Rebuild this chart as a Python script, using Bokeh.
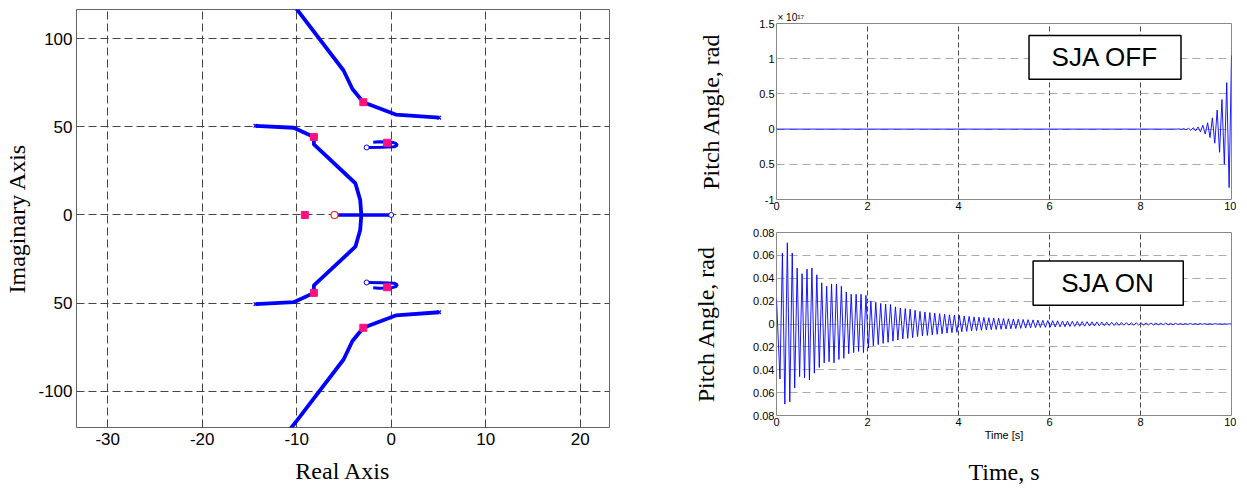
from bokeh.plotting import figure
from bokeh.models import Range1d, FixedTicker, LinearAxis, BoxAnnotation, Label
from bokeh.layouts import row, column
from bokeh.embed import file_html
from bokeh.resources import INLINE

# ---------------- Root locus data ----------------
# upper outer branch (mirrored for lower)
outer_x = [-11.2, -9.98, -5.04, -4.1, -2.95, 0.48, 5.08]
outer_y = [125.0, 116.7, 82.0, 71.5, 64.0, 57.0, 55.2]
# upper inner branch from (-14.4, 50.6) to the real axis
inner_x = [-14.37, -10.31, -8.18, -8.18, -3.79, -3.28, -3.16]
inner_y = [50.6, 49.5, 44.2, 40.0, 18.0, 8.5, 0.0]
# small loop near the imaginary axis
loop_x = [-1.9, -1.3, 0.0, 0.5, 0.65, 0.3, -1.0, -2.6]
loop_y = [41.3, 41.6, 41.4, 40.6, 39.6, 38.7, 38.4, 38.3]
# real axis segment
real_seg_x = [-6.0, 0.0]
real_seg_y = [0.0, 0.0]
# gain markers (upper half + real axis)
mark_x = [-2.95, -8.18, -0.43, -9.14]
mark_y = [64.0, 44.2, 41.0, 0.0]
zero_red_x = [-6.0]
zero_red_y = [0.0]
blue_o_x = [0.0, -2.6, -2.6]
blue_o_y = [0.0, 38.3, -38.3]
pole_x = [5.08, 5.08, -14.37, -14.37]
pole_y = [55.2, -55.2, 50.6, -50.6]

rl_xticks = [-30, -20, -10, 0, 10, 20]
rl_xlabels = {-30: "-30", -20: "-20", -10: "-10", 0: "0", 10: "10", 20: "20"}
rl_yticks = [-100, -50, 0, 50, 100]
rl_ylabels = {-100: "-100", -50: "50", 0: "0", 50: "50", 100: "100"}

# ---------------- Time responses ----------------
time_ticks = [0, 2, 4, 6, 8, 10]
# SJA OFF : values in units of 1e17, quiet until ~8.8 s then growing
off_quiet_end = 8.8
off_first_t = 8.845
off_half_period = 0.0525
off_peaks = [0.003, -0.004, 0.006, -0.008, 0.011, -0.015, 0.02, -0.025, 0.03, -0.04,
             0.055, -0.07, 0.09, -0.12, 0.16, -0.2, 0.27, -0.33, 0.42, -0.5,
             0.66, -0.83, 1.05]
off_yticks = [-1, -0.5, 0, 0.5, 1, 1.5]
off_ylabels = {-1: "-1", -0.5: "0.5", 0: "0", 0.5: "0.5", 1: "1", 1.5: "1.5"}

# SJA ON : extrema of the decaying oscillation
on_start = 0.022
on_first_min_t = 0.076
on_period = 0.108
on_max = [0.062, 0.071, 0.062, 0.049, 0.044, 0.048, 0.049, 0.043, 0.036, 0.033,
          0.035, 0.035, 0.033, 0.028, 0.026, 0.026, 0.026, 0.025, 0.020, 0.019,
          0.018, 0.0175, 0.017, 0.015, 0.014, 0.0135, 0.013, 0.012, 0.011, 0.0105,
          0.010, 0.0095, 0.009, 0.0085, 0.008, 0.0078, 0.0075, 0.007, 0.0066, 0.0062,
          0.006, 0.0057, 0.0054, 0.0052, 0.005, 0.0048, 0.0046, 0.0044, 0.0042, 0.004,
          0.0038, 0.0036, 0.0034, 0.0032, 0.003, 0.0029, 0.0028, 0.0026, 0.0025, 0.0024,
          0.0022, 0.0021, 0.002, 0.0019, 0.0018, 0.0017, 0.0016, 0.0015, 0.0014, 0.0013,
          0.0012, 0.0011, 0.001, 0.001, 0.0009, 0.0008, 0.0008, 0.0007, 0.0007, 0.0006,
          0.0006, 0.0005, 0.0005, 0.0004, 0.0004, 0.0004, 0.0003, 0.0003, 0.0003, 0.0002,
          0.0002, 0.0002]
on_min = [-0.048, -0.070, -0.068, -0.056, -0.046, -0.047, -0.049, -0.043, -0.038, -0.034,
          -0.033, -0.034, -0.031, -0.030, -0.026, -0.025, -0.024, -0.025, -0.021, -0.019,
          -0.018, -0.017, -0.016, -0.015, -0.014, -0.013, -0.0125, -0.012, -0.011, -0.0105,
          -0.010, -0.0095, -0.009, -0.0085, -0.008, -0.0076, -0.0072, -0.0068, -0.0064, -0.006,
          -0.0058, -0.0055, -0.0052, -0.005, -0.0048, -0.0046, -0.0044, -0.0042, -0.004, -0.0038,
          -0.0036, -0.0034, -0.0032, -0.003, -0.0029, -0.0028, -0.0026, -0.0025, -0.0024, -0.0022,
          -0.0021, -0.002, -0.0019, -0.0018, -0.0017, -0.0016, -0.0015, -0.0014, -0.0013, -0.0012,
          -0.0011, -0.001, -0.001, -0.0009, -0.0009, -0.0008, -0.0008, -0.0007, -0.0007, -0.0006,
          -0.0006, -0.0005, -0.0005, -0.0004, -0.0004, -0.0004, -0.0003, -0.0003, -0.0003, -0.0002,
          -0.0002, -0.0002]
on_yticks = [-0.08, -0.06, -0.04, -0.02, 0, 0.02, 0.04, 0.06, 0.08]
on_ylabels = {-0.08: "0.08", -0.06: "0.06", -0.04: "0.04", -0.02: "0.02", 0: "0",
              0.02: "0.02", 0.04: "0.04", 0.06: "0.06", 0.08: "0.08"}

BLUE = "#0000FF"
PINK = "#FF1080"
SANS = "Liberation Sans"
SERIF = "Liberation Serif"


def no_ticks(ax):
    ax.axis_line_color = None
    ax.major_tick_line_color = None
    ax.minor_tick_line_color = None
    ax.major_tick_out = 0
    ax.major_tick_in = 0
    ax.minor_tick_out = 0
    ax.minor_tick_in = 0


# ---------------- Left: root locus ----------------
left = figure(frame_width=533, frame_height=418,
              x_range=Range1d(-33.3, 23.1), y_range=Range1d(-120.6, 116.6),
              min_border_left=76, min_border_right=81, min_border_top=9, min_border_bottom=65,
              output_backend="svg", toolbar_location=None)
left.outline_line_color = "#666666"
for ax in (left.xaxis[0], left.yaxis[0]):
    no_ticks(ax)
    ax.major_label_text_font = SANS
    ax.major_label_text_font_size = "17px"
    ax.major_label_text_color = "black"
    ax.axis_label_text_font = SERIF
    ax.axis_label_text_font_size = "24px"
    ax.axis_label_text_font_style = "normal"
    ax.axis_label_text_color = "black"
left.xaxis.ticker = FixedTicker(ticks=rl_xticks)
left.xaxis.major_label_overrides = rl_xlabels
left.yaxis.ticker = FixedTicker(ticks=rl_yticks)
left.yaxis.major_label_overrides = rl_ylabels
left.xaxis.axis_label = "Real Axis"
left.yaxis.axis_label = "Imaginary Axis"
left.xaxis.major_label_standoff = 5
left.xaxis.axis_label_standoff = 10
left.yaxis.major_label_standoff = 4
left.yaxis.axis_label_standoff = 5
for g in (left.xgrid[0], left.ygrid[0]):
    g.grid_line_color = "#444444"
    g.grid_line_dash = "8 4"
    g.grid_line_width = 1

neg = lambda a: [-v for v in a]
left.line(outer_x, outer_y, line_color=BLUE, line_width=3.8)
left.line(outer_x, neg(outer_y), line_color=BLUE, line_width=3.8)
left.line(inner_x, inner_y, line_color=BLUE, line_width=3.8)
left.line(inner_x, neg(inner_y), line_color=BLUE, line_width=3.8)
left.line(loop_x, loop_y, line_color=BLUE, line_width=3)
left.line(loop_x, neg(loop_y), line_color=BLUE, line_width=3)
left.line(real_seg_x, real_seg_y, line_color=BLUE, line_width=3.5)
left.scatter(blue_o_x, blue_o_y, marker="circle", size=5, fill_color="white",
             line_color=BLUE, line_width=1)
left.scatter(pole_x, pole_y, marker="x", size=5, line_color=BLUE, line_width=1.2)
left.scatter(zero_red_x, zero_red_y, marker="circle", size=7, fill_color="white",
             line_color="#FF2020", line_width=1.2)
left.scatter(mark_x + mark_x[:3], mark_y + neg(mark_y[:3]), marker="square", size=7,
             fill_color=PINK, line_color=PINK)


def style_right(p, yticks, ylabels, ylabel_standoff):
    p.outline_line_color = "#888888"
    for ax in (p.xaxis[0], p.yaxis[0]):
        no_ticks(ax)
        ax.major_label_text_font = SANS
        ax.major_label_text_font_size = "11px"
        ax.major_label_text_color = "black"
        ax.major_label_standoff = 2
    p.xaxis.ticker = FixedTicker(ticks=time_ticks)
    p.yaxis.ticker = FixedTicker(ticks=yticks)
    p.yaxis.major_label_overrides = ylabels
    p.yaxis.axis_label = "Pitch Angle, rad"
    p.yaxis.axis_label_text_font = SERIF
    p.yaxis.axis_label_text_font_size = "24px"
    p.yaxis.axis_label_text_font_style = "normal"
    p.yaxis.axis_label_text_color = "black"
    p.yaxis.axis_label_standoff = ylabel_standoff
    p.xgrid.grid_line_color = "#444444"
    p.xgrid.grid_line_dash = "5 3"
    p.ygrid.grid_line_color = "#AAAAAA"
    p.ygrid.grid_line_dash = "8 5"


# ---------------- Right top: SJA OFF ----------------
top = figure(frame_width=455, frame_height=176,
             x_range=Range1d(0, 10), y_range=Range1d(-1, 1.5),
             min_border_left=82, min_border_right=9, min_border_top=23, min_border_bottom=25,
             output_backend="svg", toolbar_location=None)
style_right(top, off_yticks, off_ylabels, 32)
top.title.text = "\u00d7 10\u00b9\u2077"
top.title.align = "left"
top.title.text_font = SANS
top.title.text_font_size = "10px"
top.title.text_font_style = "normal"
top.title.text_color = "black"
top.title.standoff = 1
top.title.offset = 1
off_t = [0.0, off_quiet_end] + [off_first_t + i * off_half_period for i in range(len(off_peaks))]
off_v = [0.0, 0.0] + off_peaks
top.line(off_t, off_v, line_color=BLUE, line_width=0.9)
top.add_layout(BoxAnnotation(left=5.55, right=8.89, bottom=0.707, top=1.33,
                             fill_color="white", fill_alpha=1.0,
                             line_color="black", line_width=1.5, line_alpha=1.0))
top.add_layout(Label(x=7.22, y=1.02, text="SJA OFF", text_align="center",
                     text_baseline="middle", text_font=SANS, text_font_size="26px",
                     text_color="black"))

# ---------------- Right bottom: SJA ON ----------------
bot = figure(frame_width=455, frame_height=183,
             x_range=Range1d(0, 10), y_range=Range1d(-0.08, 0.08),
             min_border_left=86, min_border_right=5, min_border_top=8, min_border_bottom=77,
             output_backend="svg", toolbar_location=None)
style_right(bot, on_yticks, on_ylabels, 31)
bot.xaxis.axis_label = "Time [s]"
bot.xaxis.axis_label_text_font = SANS
bot.xaxis.axis_label_text_font_size = "11px"
bot.xaxis.axis_label_text_font_style = "normal"
bot.xaxis.axis_label_text_color = "black"
bot.xaxis.axis_label_standoff = 0
on_t = [0.0]
on_v = [on_start]
for i, (mn, mx) in enumerate(zip(on_min, on_max)):
    on_t.append(on_first_min_t + i * on_period)
    on_v.append(mn)
    on_t.append(on_first_min_t + (i + 0.5) * on_period)
    on_v.append(mx)
on_t.append(10.0)
on_v.append(0.0)
bot.line(on_t, on_v, line_color=BLUE, line_width=0.9)
bot.add_layout(BoxAnnotation(left=5.64, right=8.94, bottom=0.0163, top=0.0551,
                             fill_color="white", fill_alpha=1.0,
                             line_color="black", line_width=1.5, line_alpha=1.0))
bot.add_layout(Label(x=7.29, y=0.0357, text="SJA ON", text_align="center",
                     text_baseline="middle", text_font=SANS, text_font_size="26px",
                     text_color="black"))
ax2 = LinearAxis(ticker=FixedTicker(ticks=[]), axis_label="Time, s")
no_ticks(ax2)
ax2.major_label_standoff = 0
ax2.axis_label_text_font = SERIF
ax2.axis_label_text_font_size = "24px"
ax2.axis_label_text_font_style = "normal"
ax2.axis_label_text_color = "black"
ax2.axis_label_standoff = 15
bot.add_layout(ax2, "below")

layout = row(left, column(top, bot))
open("out.html", "w").write(file_html(layout, INLINE))
